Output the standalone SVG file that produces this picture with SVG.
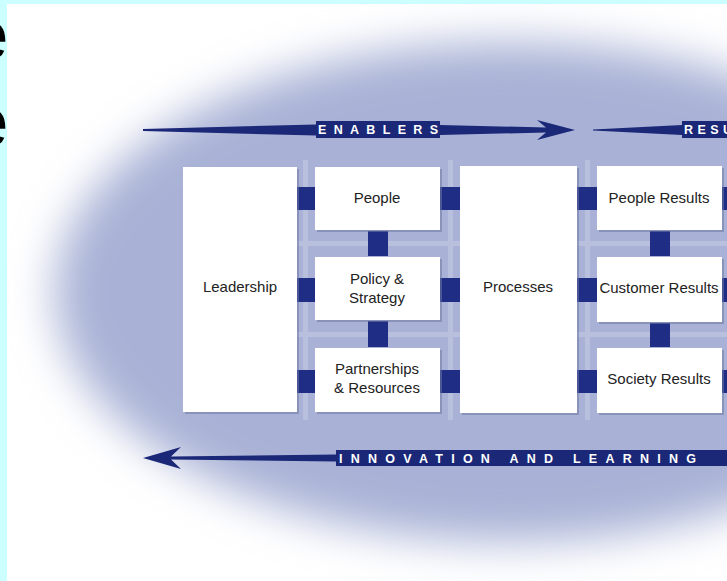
<svg xmlns="http://www.w3.org/2000/svg" width="727" height="581" viewBox="0 0 727 581">
<defs>
<filter id="blur" x="-30%" y="-30%" width="160%" height="160%"><feGaussianBlur stdDeviation="22"/></filter>
<style>
.box{fill:#ffffff}
.shadow{fill:#6f78a3;opacity:.55}
.lbl{font-family:"Liberation Sans",Arial,sans-serif;font-size:15px;fill:#222222;text-anchor:middle}
.stub{fill:#1f2d85}
.band{fill:#1b2878}
.bandtxt{font-family:"Liberation Sans",Arial,sans-serif;font-size:12.5px;font-weight:bold;fill:#ffffff}
.grid{fill:#b9c0de}
.big{font-family:"Liberation Sans",Arial,sans-serif;font-size:70px;fill:#000000;text-anchor:end}
</style>
</defs>
<rect width="727" height="581" fill="#ccffff"/>
<rect x="7" y="4" width="720" height="577" fill="#ffffff"/>
<text class="big" x="8.5" y="59">e</text>
<text class="big" x="8.5" y="146">e</text>
<ellipse cx="510" cy="292" rx="455" ry="250" fill="#a9b2d6" filter="url(#blur)"/>
<g id="grid">
<rect class="grid" x="297" y="241" width="430" height="5"/>
<rect class="grid" x="297" y="332" width="430" height="5"/>
<rect class="grid" x="303" y="160" width="5" height="260"/>
<rect class="grid" x="448" y="160" width="5" height="260"/>
<rect class="grid" x="585" y="160" width="5" height="260"/>
</g>
<g id="connectors">
<polygon class="band" points="143,129 316,124.5 316,121 440,121 440,125 546,127.5 537,120 575,130 537,140 546,132.5 440,135 440,138 316,138 316,135.5 143,131"/>
<polygon class="band" points="593,129.5 682,125 682,121 727,121 727,138 682,138 682,135 593,130.5"/>
<polygon class="band" points="143,458 181,447 171,456.5 336,454.5 336,450 727,450 727,466 336,466 336,461.5 171,459.5 181,469"/>
<rect class="stub" x="297" y="187" width="18" height="23"/>
<rect class="stub" x="297" y="278" width="18" height="24"/>
<rect class="stub" x="297" y="370" width="18" height="23"/>
<rect class="stub" x="440" y="187" width="20" height="23"/>
<rect class="stub" x="440" y="278" width="20" height="24"/>
<rect class="stub" x="440" y="370" width="20" height="23"/>
<rect class="stub" x="577" y="187" width="20" height="23"/>
<rect class="stub" x="577" y="278" width="20" height="24"/>
<rect class="stub" x="577" y="370" width="20" height="23"/>
<rect class="stub" x="722" y="187" width="5" height="23"/>
<rect class="stub" x="722" y="278" width="5" height="24"/>
<rect class="stub" x="722" y="370" width="5" height="23"/>
<rect class="stub" x="368" y="231" width="20" height="25"/>
<rect class="stub" x="368" y="321" width="20" height="26"/>
<rect class="stub" x="650" y="231" width="20" height="25"/>
<rect class="stub" x="650" y="323" width="20" height="24"/>
<text class="bandtxt" x="318" y="134" textLength="120" lengthAdjust="spacing">ENABLERS</text>
<text class="bandtxt" x="684" y="134" textLength="84" lengthAdjust="spacing">RESULTS</text>
<text class="bandtxt" x="339" y="462.5" textLength="357" lengthAdjust="spacing">INNOVATION AND LEARNING</text>
</g>
<g id="leadership">
<rect class="shadow" x="185" y="169" width="114" height="245"/>
<rect class="box" x="183" y="167" width="114" height="245"/>
<text class="lbl" x="240" y="292">Leadership</text>
</g>
<g id="people">
<rect class="shadow" x="317" y="169" width="125" height="63"/>
<rect class="box" x="315" y="167" width="125" height="63"/>
<text class="lbl" x="377" y="203">People</text>
</g>
<g id="policy">
<rect class="shadow" x="317" y="259" width="125" height="63"/>
<rect class="box" x="315" y="257" width="125" height="63"/>
<text class="lbl" x="377" y="284">Policy &amp;</text>
<text class="lbl" x="377" y="303">Strategy</text>
</g>
<g id="partnerships">
<rect class="shadow" x="317" y="350" width="125" height="64"/>
<rect class="box" x="315" y="348" width="125" height="64"/>
<text class="lbl" x="377" y="374">Partnerships</text>
<text class="lbl" x="377" y="393">&amp; Resources</text>
</g>
<g id="processes">
<rect class="shadow" x="462" y="168" width="117" height="247"/>
<rect class="box" x="460" y="166" width="117" height="247"/>
<text class="lbl" x="518" y="292">Processes</text>
</g>
<g id="people-results">
<rect class="shadow" x="599" y="168" width="125" height="64"/>
<rect class="box" x="597" y="166" width="125" height="64"/>
<text class="lbl" x="659" y="203">People Results</text>
</g>
<g id="customer-results">
<rect class="shadow" x="599" y="259" width="125" height="65"/>
<rect class="box" x="597" y="257" width="125" height="65"/>
<text class="lbl" x="659" y="293">Customer Results</text>
</g>
<g id="society-results">
<rect class="shadow" x="599" y="350" width="125" height="65"/>
<rect class="box" x="597" y="348" width="125" height="65"/>
<text class="lbl" x="659" y="384">Society Results</text>
</g>
</svg>
